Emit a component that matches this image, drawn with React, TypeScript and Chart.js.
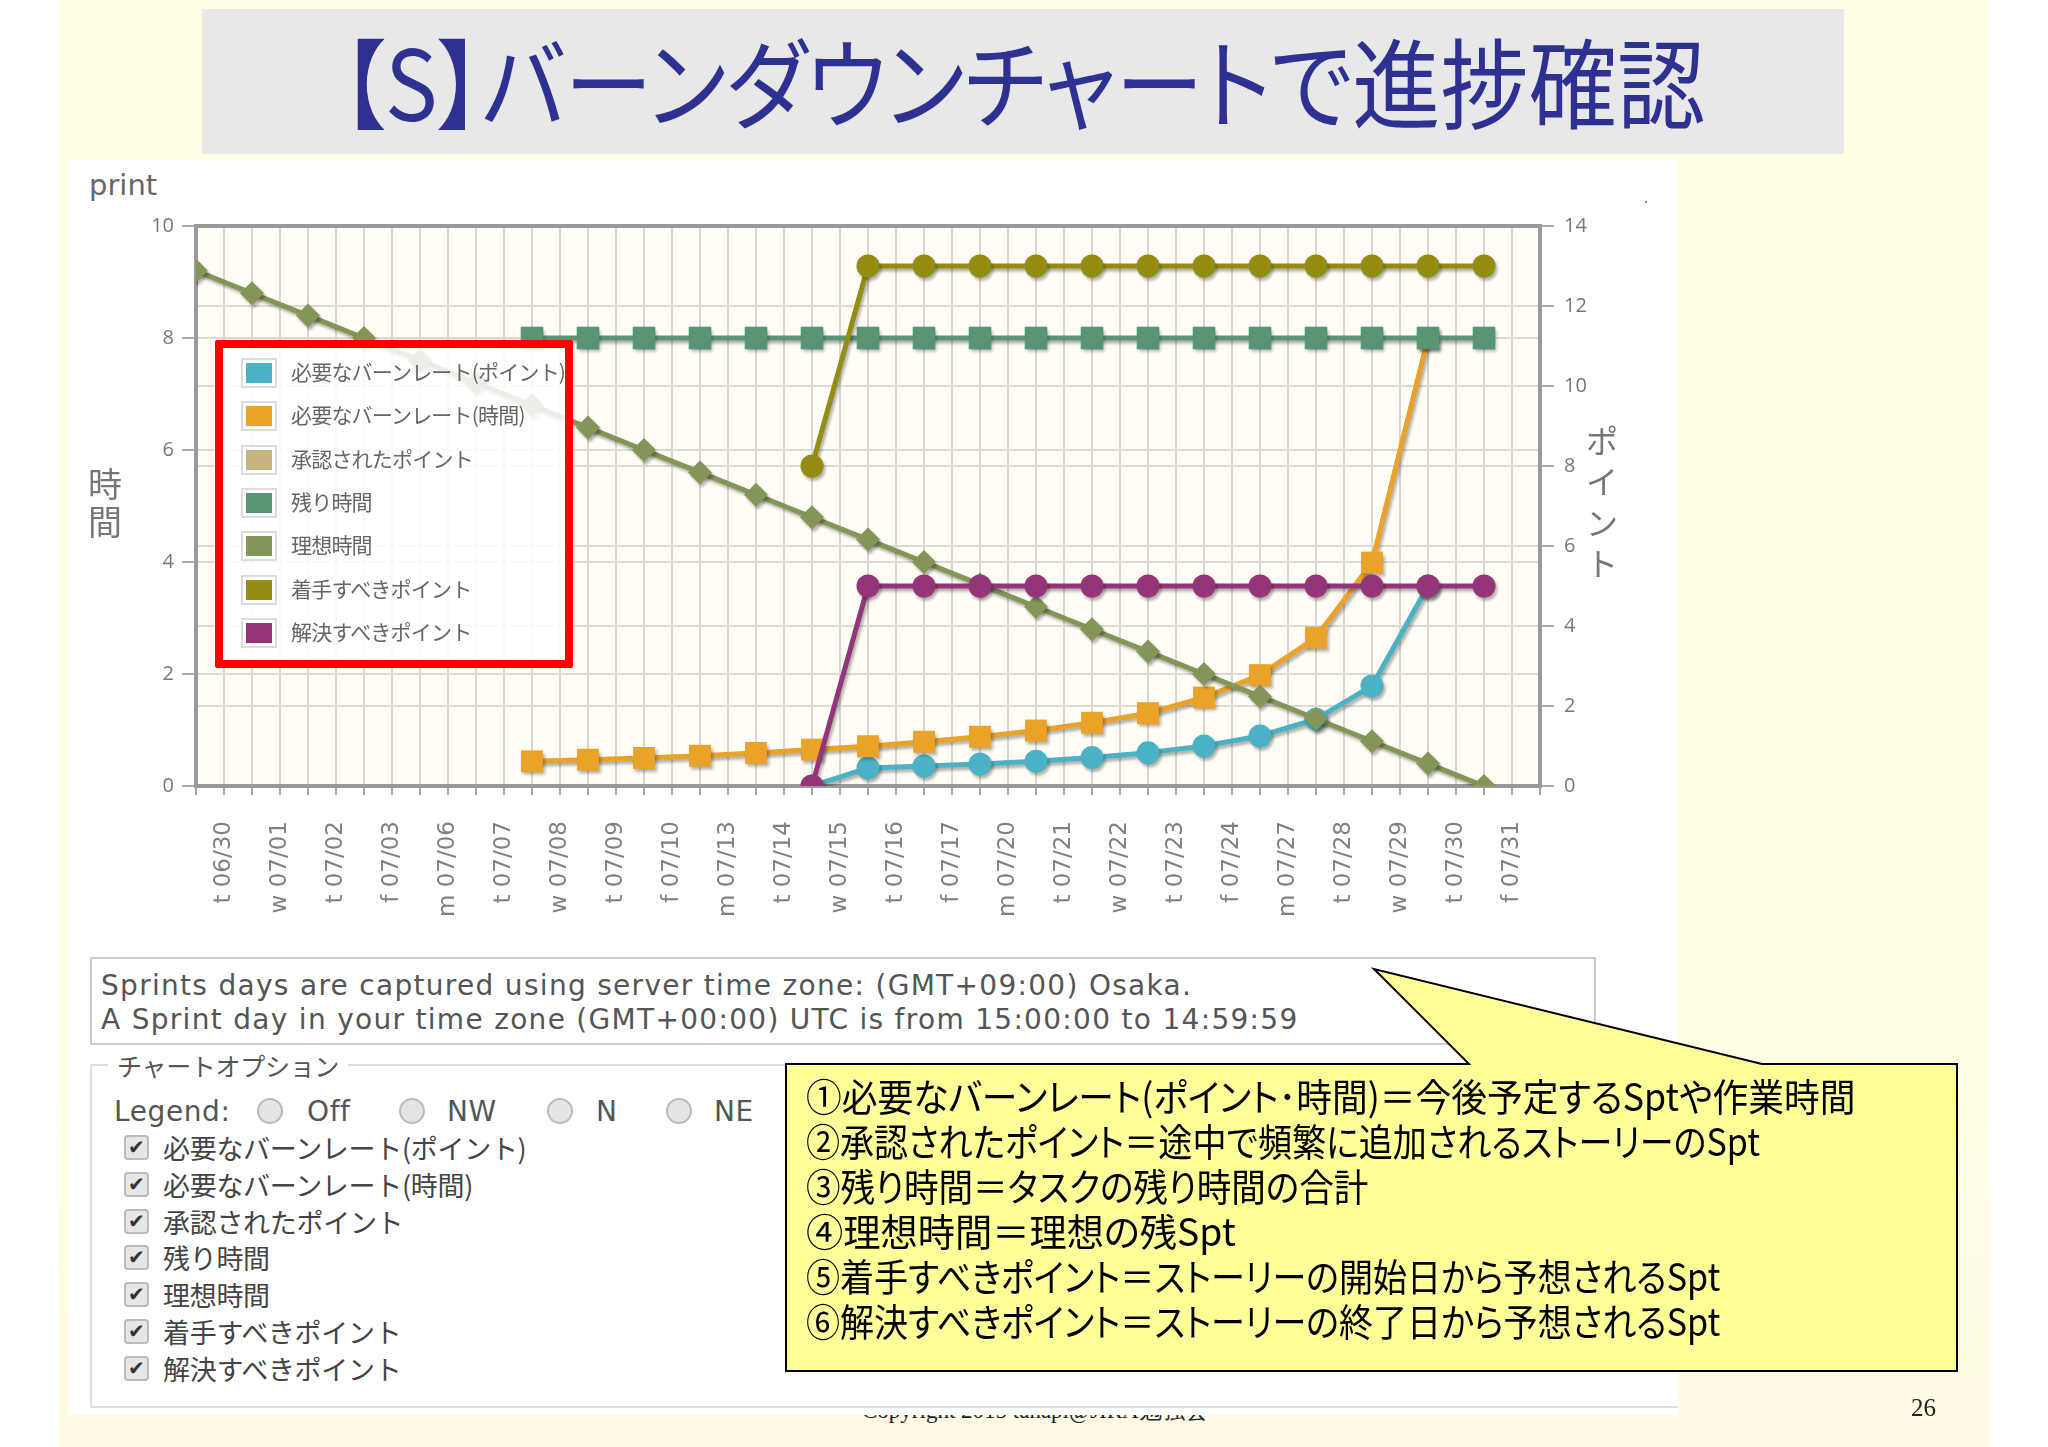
import { useEffect, useRef } from 'react';
import { Chart, registerables } from 'chart.js';

Chart.register(...registerables);

const dayLabels = [
  't 06/30', 'w 07/01', 't 07/02', 'f 07/03', 'm 07/06', 't 07/07', 'w 07/08', 't 07/09',
  'f 07/10', 'm 07/13', 't 07/14', 'w 07/15', 't 07/16', 'f 07/17', 'm 07/20', 't 07/21',
  'w 07/22', 't 07/23', 'f 07/24', 'm 07/27', 't 07/28', 'w 07/29', 't 07/30', 'f 07/31',
];

const hourTicks = [0, 2, 4, 6, 8, 10];
const pointTicks = [0, 2, 4, 6, 8, 10, 12, 14];

const n = null;
// index 0 = 06/30, index 23 = 07/30 on the plot
const burnPoints = [n, n, n, n, n, n, n, n, n, n, n, 0, 0.45, 0.5, 0.55, 0.62, 0.71, 0.83, 1, 1.25, 1.67, 2.5, 5, n];
const burnHours = [n, n, n, n, n, n, 0.44, 0.47, 0.5, 0.54, 0.59, 0.65, 0.71, 0.79, 0.88, 0.99, 1.13, 1.3, 1.58, 1.98, 2.65, 3.99, 8, n];
const approvedPoints: (number | null)[] = [];
const remainingHours = [n, n, n, n, n, n, 8, 8, 8, 8, 8, 8, 8, 8, 8, 8, 8, 8, 8, 8, 8, 8, 8, 8];
const idealHours = [9.2, 8.8, 8.4, 8, 7.6, 7.2, 6.8, 6.4, 6, 5.6, 5.2, 4.8, 4.4, 4, 3.6, 3.2, 2.8, 2.4, 2, 1.6, 1.2, 0.8, 0.4, 0];
const startPoints = [n, n, n, n, n, n, n, n, n, n, n, 8, 13, 13, 13, 13, 13, 13, 13, 13, 13, 13, 13, 13];
const finishPoints = [n, n, n, n, n, n, n, n, n, n, n, 0, 5, 5, 5, 5, 5, 5, 5, 5, 5, 5, 5, 5];

const seriesNames = [
  '必要なバーンレート(ポイント)',
  '必要なバーンレート(時間)',
  '承認されたポイント',
  '残り時間',
  '理想時間',
  '着手すべきポイント',
  '解決すべきポイント',
];
const seriesColors = ['#4bb2c5', '#EAA228', '#c5b47f', '#579575', '#839557', '#958c12', '#953579'];

const calloutLines = [
  '①必要なバーンレート(ポイント･時間)＝今後予定するSptや作業時間',
  '②承認されたポイント＝途中で頻繁に追加されるストーリーのSpt',
  '③残り時間＝タスクの残り時間の合計',
  '④理想時間＝理想の残Spt',
  '⑤着手すべきポイント＝ストーリーの開始日から予想されるSpt',
  '⑥解決すべきポイント＝ストーリーの終了日から予想されるSpt',
];
const calloutSqueeze = [0.94, 0.896, 0.91, 0.98, 0.896, 0.896];
const radioOptions = ['Off', 'NW', 'N', 'NE'];
const radioX = [257, 399, 547, 666];
const radioLabelX = [307, 447, 596, 714];

const JP = '"Noto Sans CJK JP", sans-serif';
const DJ = '"DejaVu Sans", sans-serif';

const toPoints = (values: (number | null)[]) => values.map((y, x) => ({ x, y }));

const plotFrame = {
  id: 'plotFrame',
  beforeDraw(chart: Chart) {
    const { ctx, chartArea: a } = chart;
    ctx.save();
    ctx.fillStyle = '#FFFDF6';
    ctx.fillRect(a.left, a.top, a.right - a.left, a.bottom - a.top);
    ctx.restore();
  },
  beforeDatasetsDraw(chart: Chart) {
    const { ctx, chartArea: a } = chart;
    ctx.save();
    ctx.strokeStyle = '#999999';
    ctx.lineWidth = 4;
    ctx.strokeRect(a.left, a.top, a.right - a.left, a.bottom - a.top);
    ctx.restore();
    // jqPlot style soft shadow under the series
    ctx.save();
    ctx.shadowColor = 'rgba(0,0,0,0.3)';
    ctx.shadowBlur = 3;
    ctx.shadowOffsetX = 2;
    ctx.shadowOffsetY = 3;
  },
  afterDatasetsDraw(chart: Chart) {
    chart.ctx.restore();
  },
};

function BurndownChart() {
  const canvasRef = useRef<HTMLCanvasElement | null>(null);

  useEffect(() => {
    if (!canvasRef.current) return;
    const line = (i: number, values: (number | null)[], yAxisID: string, pointStyle: string, pointRadius: number, borderWidth = 5) => ({
      label: seriesNames[i],
      data: toPoints(values),
      yAxisID,
      order: 6 - i,
      borderColor: seriesColors[i],
      backgroundColor: seriesColors[i],
      pointBackgroundColor: seriesColors[i],
      pointBorderWidth: 0,
      borderWidth,
      pointStyle,
      pointRadius,
      clip: 0,
    });
    const chart = new Chart(canvasRef.current, {
      type: 'line',
      data: {
        datasets: [
          line(0, burnPoints, 'yPoints', 'circle', 11.5),
          line(1, burnHours, 'yHours', 'rect', 15.5),
          line(2, approvedPoints, 'yPoints', 'circle', 11),
          line(3, remainingHours, 'yHours', 'rect', 16),
          line(4, idealHours, 'yHours', 'rectRot', 12),
          line(5, startPoints, 'yPoints', 'circle', 11.5),
          line(6, finishPoints, 'yPoints', 'circle', 11.5),
        ] as any,
      },
      options: {
        responsive: false,
        animation: false,
        layout: { padding: { top: 26, left: 0, right: 0, bottom: 0 } },
        plugins: { legend: { display: false }, tooltip: { enabled: false } },
        scales: {
          x: {
            type: 'linear',
            min: 0,
            max: 24,
            afterFit: (scale: any) => { scale.height = 155; },
            border: { display: false },
            grid: { color: '#D8D6CE', lineWidth: 2, tickLength: 9, tickColor: '#AAAAAA' },
            ticks: {
              stepSize: 0.5,
              autoSkip: false,
              minRotation: 90,
              maxRotation: 90,
              padding: 26,
              color: '#808080',
              font: { family: 'DejaVu Sans', size: 23 },
              callback: (value: any) => (Number.isInteger(value) ? '' : dayLabels[Math.floor(value)]),
            },
          },
          yHours: {
            type: 'linear',
            position: 'left',
            min: hourTicks[0],
            max: hourTicks[hourTicks.length - 1],
            afterFit: (scale: any) => { scale.width = 129; },
            border: { display: false },
            grid: { color: '#DEDAD2', lineWidth: 2, tickLength: 14, tickColor: '#AAAAAA' },
            ticks: { stepSize: 2, padding: 8, color: '#777777', font: { family: 'Open Sans', size: 20 } },
          },
          yPoints: {
            type: 'linear',
            position: 'right',
            min: pointTicks[0],
            max: pointTicks[pointTicks.length - 1],
            afterFit: (scale: any) => { scale.width = 116; },
            border: { display: false },
            grid: { color: '#DEDAD2', lineWidth: 2, tickLength: 14, tickColor: '#AAAAAA' },
            ticks: { stepSize: 2, padding: 10, color: '#777777', font: { family: 'Open Sans', size: 20 } },
          },
        },
      },
      plugins: [plotFrame as any],
    });
    return () => chart.destroy();
  }, []);

  return <canvas ref={canvasRef} width={1589} height={741} style={{ position: 'absolute', left: 67, top: 200 }} />;
}

const abs = (left: number, top: number, extra: React.CSSProperties = {}): React.CSSProperties => ({
  position: 'absolute', left, top, whiteSpace: 'nowrap', ...extra,
});

export default function App() {
  return (
    <div style={{ position: 'absolute', left: 0, top: 0, width: 2048, height: 1447, overflow: 'hidden', background: '#fff' }}>
      <div style={abs(59, 0, { width: 1930, height: 1447, background: 'linear-gradient(#FFFFE6, #FFFFE6 70%, #FEFAE3)' })} />
      <div style={abs(202, 9, { width: 1642, height: 145, background: '#E8E8E8' })} />
      <div style={abs(341, 18, { fontFamily: JP, fontSize: 98, lineHeight: '120px', color: '#2E3192', fontFeatureSettings: '"palt"', transform: 'scaleX(0.9)', transformOrigin: 'left top' })}>
        【S】バーンダウンチャートで進捗確認
      </div>

      <div style={abs(862, 1395, { fontFamily: '"Liberation Serif", serif', fontSize: 23, color: '#222' })}>Copyright 2015 tanapi@JIRA勉強会</div>
      <div style={abs(68, 160, { width: 1610, height: 1255, background: '#fff' })} />

      <div style={abs(89, 168, { fontFamily: DJ, fontSize: 29, color: '#666' })}>print</div>
      <div style={abs(1645, 201, { width: 2, height: 2, background: '#888' })} />

      <BurndownChart />

      <div style={abs(88, 464, { fontFamily: JP, fontSize: 34, lineHeight: '38px', color: '#777', width: 36, whiteSpace: 'normal' })}>時間</div>
      <div style={abs(1586, 419, { fontFamily: JP, fontSize: 32, lineHeight: '41px', color: '#777', width: 36, whiteSpace: 'normal' })}>ポイント</div>

      {/* legend overlay, red frame was added on the slide */}
      <div style={abs(215, 340, { width: 358, height: 328, boxSizing: 'border-box', border: '8px solid #FF0000', borderRadius: 2, background: 'rgba(255,255,255,0.85)' })} />
      {seriesNames.map((name, i) => (
        <div key={name}>
          <div style={abs(241, 358 + i * 43.3, { width: 36, height: 30, boxSizing: 'border-box', border: '2px solid #ddd', padding: '3px 3px', background: '#fff' })}>
            <div style={{ width: '100%', height: '100%', background: seriesColors[i] }} />
          </div>
          <div style={abs(291, 356 + i * 43.3, { fontFamily: JP, fontSize: 21, lineHeight: '30px', color: '#666', letterSpacing: -0.8 })}>{name}</div>
        </div>
      ))}

      <div style={abs(90, 957, { width: 1506, height: 88, boxSizing: 'border-box', border: '2px solid #ccc' })} />
      <div style={abs(101, 969, { fontFamily: DJ, fontSize: 28, lineHeight: '34px', letterSpacing: 1.3, color: '#555' })}>
        Sprints days are captured using server time zone: (GMT+09:00) Osaka.
        <br />
        A Sprint day in your time zone (GMT+00:00) UTC is from 15:00:00 to 14:59:59
      </div>

      <div style={abs(90, 1064, { width: 1588, height: 344, boxSizing: 'border-box', borderTop: '2px solid #ddd', borderLeft: '2px solid #ddd', borderBottom: '2px solid #ddd' })} />
      <div style={abs(108, 1047, { padding: '0 9px', background: '#fff', fontFamily: JP, fontSize: 25, lineHeight: '36px', color: '#555', letterSpacing: -0.3 })}>チャートオプション</div>
      <div style={abs(114, 1094, { fontFamily: DJ, fontSize: 28, lineHeight: '36px', letterSpacing: 0.6, color: '#555' })}>Legend:</div>
      {radioOptions.map((name, i) => (
        <div key={name}>
          <div style={abs(radioX[i], 1098, { width: 26, height: 26, borderRadius: 13, boxSizing: 'border-box', border: '2px solid #bbb', background: '#e4e4e4' })} />
          <div style={abs(radioLabelX[i], 1094, { fontFamily: DJ, fontSize: 28, lineHeight: '36px', letterSpacing: 0.6, color: '#555' })}>{name}</div>
        </div>
      ))}
      {seriesNames.map((name, i) => (
        <div key={'check' + name}>
          <div style={abs(124, 1135 + i * 36.8, { width: 25, height: 25, borderRadius: 4, boxSizing: 'border-box', border: '2px solid #bbb', background: '#e6e6e6', fontFamily: DJ, fontSize: 20, lineHeight: '21px', textAlign: 'center', color: '#333' })}>✔</div>
          <div style={abs(163, 1129 + i * 36.8, { fontFamily: JP, fontSize: 27, lineHeight: '38px', letterSpacing: -0.3, color: '#444' })}>{name}</div>
        </div>
      ))}

      <svg width={2048} height={1447} style={{ position: 'absolute', left: 0, top: 0 }}>
        <polygon points="786,1064 1469,1064 1374,969 1762,1064 1957,1064 1957,1371 786,1371" fill="#FFFF99" stroke="#000" strokeWidth={2} />
      </svg>
      {calloutLines.map((text, i) => (
        <div key={text} style={abs(806, 1070 + i * 45, { fontFamily: JP, fontSize: 38, lineHeight: '50px', color: '#000', fontFeatureSettings: '"palt"', transform: `scaleX(${calloutSqueeze[i]})`, transformOrigin: 'left top' })}>{text}</div>
      ))}

      <div style={abs(1911, 1394, { fontFamily: '"Liberation Serif", serif', fontSize: 25, color: '#222' })}>26</div>
    </div>
  );
}
